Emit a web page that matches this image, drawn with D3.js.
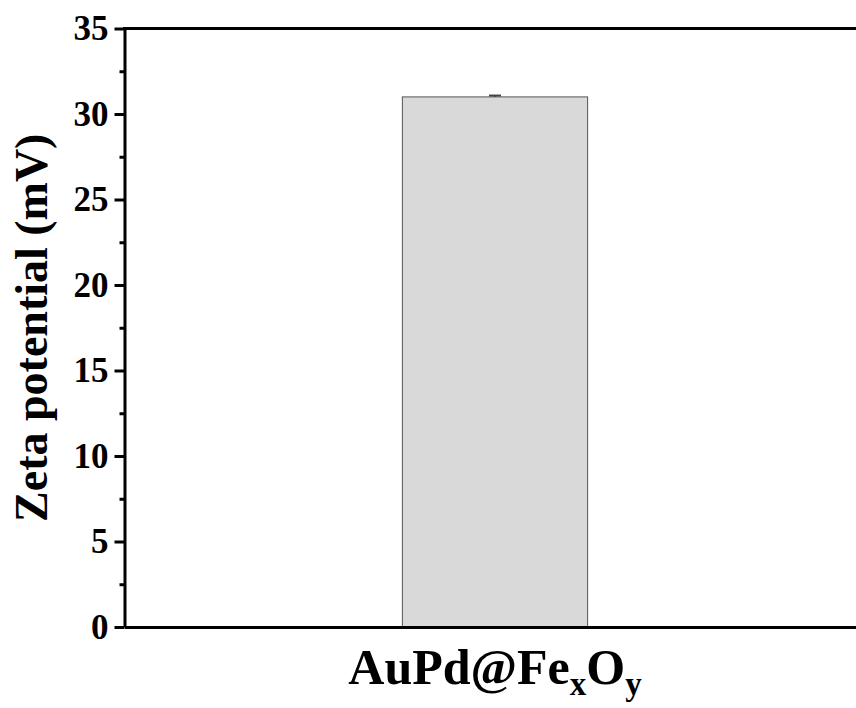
<!DOCTYPE html>
<html lang="en">
<head>
<meta charset="utf-8">
<title>Zeta potential</title>
<script src="https://cdn.jsdelivr.net/npm/d3@7"></script>
<style>
  body { margin: 0; background: #fff; }
  text { font-family: "Liberation Serif", "Times New Roman", serif; font-weight: bold; }
</style>
</head>
<body>
<script>
var w = 856, h = 708;

var categories = ["AuPd@FexOy"];
var values = [31.0];
var errors = [0.08];
var yTicks = [0, 5, 10, 15, 20, 25, 30, 35];

var margin = {left: 124.5, top: 28.5, bottom: 81};
var plotW = 741;
var plotH = h - margin.top - margin.bottom;

var svg = d3.select("body").append("svg")
  .attr("width", w).attr("height", h);

var g = svg.append("g").attr("transform", "translate(" + margin.left + "," + margin.top + ")");

var x = d3.scaleBand().domain(categories).range([0, plotW]).paddingInner(0.75).paddingOuter(0.375);
var y = d3.scaleLinear().domain([0, 35]).range([plotH, 0]);

// bars
g.selectAll("rect.bar").data(values).enter().append("rect")
  .attr("class", "bar")
  .attr("x", function(d, i) { return x(categories[i]); })
  .attr("y", function(d) { return y(d); })
  .attr("width", x.bandwidth())
  .attr("height", function(d) { return plotH - y(d); })
  .attr("fill", "#d9d9d9")
  .attr("stroke", "#555")
  .attr("stroke-width", 1);

// error bars
var eb = g.selectAll("g.err").data(values).enter().append("g").attr("class", "err");
eb.append("line")
  .attr("x1", function(d, i) { return x(categories[i]) + x.bandwidth() / 2; })
  .attr("x2", function(d, i) { return x(categories[i]) + x.bandwidth() / 2; })
  .attr("y1", function(d, i) { return y(d + errors[i]); })
  .attr("y2", function(d) { return y(d); })
  .attr("stroke", "#444").attr("stroke-width", 1.5);
eb.append("line")
  .attr("x1", function(d, i) { return x(categories[i]) + x.bandwidth() / 2 - 6; })
  .attr("x2", function(d, i) { return x(categories[i]) + x.bandwidth() / 2 + 6; })
  .attr("y1", function(d, i) { return y(d + errors[i]); })
  .attr("y2", function(d, i) { return y(d + errors[i]); })
  .attr("stroke", "#444").attr("stroke-width", 2);

// minor ticks
var yMinor = d3.axisLeft(y).tickValues(d3.range(2.5, 35, 5)).tickSize(5).tickFormat("");
g.append("g").call(yMinor)
  .call(function(s) { s.select(".domain").remove(); s.selectAll("line").attr("stroke-width", 3); });

// major y axis
var yAxis = d3.axisLeft(y).tickValues(yTicks).tickSize(10).tickPadding(6).tickSizeOuter(0);
var ya = g.append("g").call(yAxis);
ya.attr("font-size", null).attr("font-family", null);
ya.select(".domain").attr("stroke-width", 3);
ya.selectAll(".tick line").attr("stroke-width", 3);
ya.selectAll(".tick text").style("font-size", "35px").attr("fill", "#000");

// x axis (no ticks)
var xAxis = d3.axisBottom(x).tickSize(0).tickFormat("");
g.append("g").attr("transform", "translate(0," + plotH + ")").call(xAxis)
  .select(".domain").attr("stroke-width", 3);

// top frame
g.append("line").attr("x1", -1.5).attr("x2", plotW).attr("y1", 0).attr("y2", 0)
  .attr("stroke", "#000").attr("stroke-width", 3);

// x category label with subscripts
var lbl = g.append("text")
  .attr("x", x(categories[0]) + x.bandwidth() / 2)
  .attr("y", plotH + 57)
  .attr("text-anchor", "middle")
  .style("font-size", "50px");
lbl.append("tspan").text("AuPd@Fe");
lbl.append("tspan").style("font-size", "33px").attr("dy", 11).text("x");
lbl.append("tspan").attr("dy", -11).text("O");
lbl.append("tspan").style("font-size", "33px").attr("dy", 11).text("y");

// y title
svg.append("text")
  .attr("transform", "translate(47," + (margin.top + plotH / 2) + ") rotate(-90)")
  .attr("text-anchor", "middle")
  .style("font-size", "46px")
  .text("Zeta potential (mV)");
</script>
</body>
</html>
